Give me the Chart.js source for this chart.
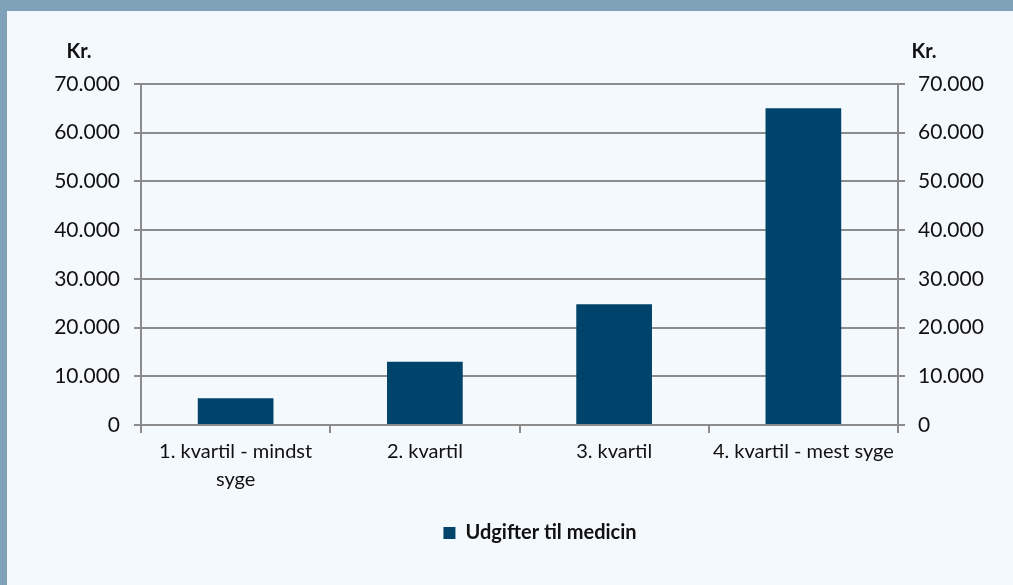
<!DOCTYPE html>
<html>
<head>
<meta charset="utf-8">
<script src="https://cdn.jsdelivr.net/npm/chart.js@4"></script>
<style>
    html, body { margin: 0; padding: 0; }
    body {
        width: 1013px;
        height: 585px;
        background: #f4f9fd;
        position: relative;
        overflow: hidden;
    }
    .band {
        position: absolute;
        left: 0; top: 0;
        width: 1013px; height: 11px;
        background: #7fa2b8;
    }
    .side {
        position: absolute;
        left: 0; top: 0;
        width: 7px; height: 585px;
        background: #7fa2b8;
    }
    .wrap {
        position: absolute;
        left: 7px; top: 11px;
        width: 1006px; height: 574px;
    }
</style>
</head>
<body>
<div class="band"></div>
<div class="side"></div>
<div class="wrap"><canvas id="chart"></canvas></div>
<script>
const categories = [["1. kvartil - mindst", "syge"], "2. kvartil", "3. kvartil", "4. kvartil - mest syge"];
const seriesName = "Udgifter til medicin";
const medicinValues = [5500, 13000, 24800, 65000];
const axisUnit = "Kr.";
const yMax = 70000;
const yStep = 10000;

const fontFamily = "Lato, 'Open Sans', sans-serif";
const gridColor = "#8c8c8c";

// draws the "Kr." label above both value axes
const unitLabels = {
    id: "unitLabels",
    afterLayout(chart) {
        // legend sits a bit right of centre in the original
        chart.legend.left += 30;
        chart.legend.right += 30;
    },
    afterDraw(chart) {
        const ctx = chart.ctx;
        const area = chart.chartArea;
        ctx.save();
        ctx.font = "bold 20px " + fontFamily;
        ctx.fillStyle = "#111";
        ctx.textAlign = "center";
        ctx.textBaseline = "middle";
        ctx.fillText(axisUnit, area.left - 62, area.top - 32);
        ctx.fillText(axisUnit, area.right + 26, area.top - 32);
        ctx.restore();
    },
};

new Chart(document.getElementById("chart"), {
    type: "bar",
    data: {
        labels: categories,
        datasets: [
            {
                label: seriesName,
                data: medicinValues,
                backgroundColor: "#00436b",
                barPercentage: 0.4,
                categoryPercentage: 1.0,
                yAxisID: "y",
            },
        ],
    },
    options: {
        responsive: true,
        maintainAspectRatio: false,
        animation: false,
        layout: {
            padding: { top: 73, bottom: 32, left: 0, right: 0 },
        },
        plugins: {
            tooltip: { enabled: false },
            legend: {
                position: "bottom",
                labels: {
                    boxWidth: 12,
                    boxHeight: 12,
                    padding: 10,
                    color: "#111",
                    font: { family: fontFamily, size: 20, weight: "bold" },
                },
            },
        },
        scales: {
            x: {
                offset: true,
                grid: {
                    offset: true,
                    drawOnChartArea: false,
                    tickLength: 8,
                    color: gridColor,
                    lineWidth: 2,
                },
                border: { color: gridColor, width: 2 },
                ticks: {
                    color: "#111",
                    maxRotation: 0,
                    autoSkip: false,
                    padding: 5,
                    font: { family: fontFamily, size: 20, lineHeight: 1.4 },
                },
                afterFit(scale) {
                    scale.height = 88;
                },
            },
            y: {
                position: "left",
                min: 0,
                max: yMax,
                grid: {
                    color: gridColor,
                    lineWidth: 2,
                    tickLength: 7,
                },
                border: { color: gridColor, width: 2 },
                ticks: {
                    stepSize: yStep,
                    color: "#111",
                    padding: 14,
                    font: { family: fontFamily, size: 21 },
                    callback: (v) => v.toLocaleString("da-DK"),
                },
                afterFit(scale) {
                    scale.width = 134;
                },
            },
            y2: {
                position: "right",
                min: 0,
                max: yMax,
                grid: {
                    drawOnChartArea: false,
                    color: gridColor,
                    lineWidth: 2,
                    tickLength: 7,
                },
                border: { color: gridColor, width: 2 },
                ticks: {
                    stepSize: yStep,
                    color: "#111",
                    padding: 13,
                    font: { family: fontFamily, size: 21 },
                    callback: (v) => v.toLocaleString("da-DK"),
                },
                afterFit(scale) {
                    scale.width = 115;
                },
            },
        },
    },
    plugins: [unitLabels],
});
</script>
</body>
</html>
